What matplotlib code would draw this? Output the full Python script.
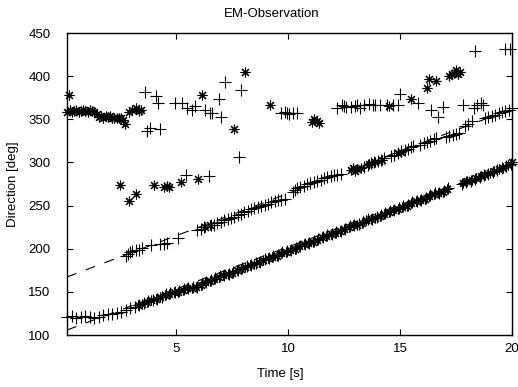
import matplotlib
matplotlib.use("Agg")
import matplotlib.pyplot as plt
import numpy as np

plt.rcParams['font.family'] = ['Liberation Sans', 'DejaVu Sans']

# lower track, '+' samples
low_plus_t = [0.15, 0.35, 0.55, 0.75, 0.95, 1.15, 1.35, 1.55, 1.75, 1.95, 2.15, 2.35, 2.55, 2.75,
              2.95, 3.15, 3.35, 3.55, 3.75, 3.95, 4.15, 4.35, 4.55, 4.75, 4.95, 5.15, 5.35, 5.55,
              5.75, 5.95, 6.15, 6.35, 6.55, 6.75, 6.95, 7.15, 7.35, 7.55, 7.75, 7.95, 8.15, 8.35,
              8.55, 8.75, 8.95, 9.15, 9.35, 9.55, 9.75, 9.95, 10.15, 10.35, 10.55, 10.75, 10.95,
              11.15, 11.35, 11.55, 11.75, 11.95, 12.15, 12.35, 12.55, 12.75, 12.95, 13.15, 13.35,
              13.55, 13.75, 13.95, 14.15, 14.35, 14.55, 14.75, 14.95, 15.15, 15.35, 15.55, 15.75,
              15.95, 16.15, 16.35, 16.55, 16.75, 16.95, 17.15, 17.75, 17.95, 18.15, 18.35, 18.55,
              18.75, 18.95, 19.15, 19.35, 19.55, 19.75, 19.95]
low_plus_v = [121, 122, 120, 121, 122, 121, 120, 121, 123, 124, 124, 126, 127, 129,
              131, 133, 135, 137, 139, 141, 142, 144, 147, 149, 150, 151, 153, 154,
              156, 156, 159, 162, 164, 166, 168, 170, 171, 173, 175, 178, 180, 181,
              183, 185, 188, 189, 191, 193, 196, 197, 199, 201, 203, 206, 207,
              209, 211, 213, 216, 217, 219, 221, 223, 226, 227, 229, 231,
              234, 235, 237, 239, 241, 244, 245, 247, 249, 251, 254, 255,
              257, 259, 262, 264, 265, 267, 270, 275, 277, 279, 281, 283,
              285, 287, 289, 291, 294, 296, 298]

# lower track, '*' samples
low_star_t = [3.3, 3.5, 3.7, 3.9, 4.1, 4.3, 4.5, 4.7, 4.9, 5.1, 5.3, 5.5, 5.7, 5.9, 6.1, 6.3,
              6.5, 6.7, 6.9, 7.1, 7.3, 7.5, 7.7, 7.9, 8.1, 8.3, 8.5, 8.7, 8.9, 9.1, 9.3, 9.5,
              9.7, 9.9, 10.1, 10.3, 10.5, 10.7, 10.9, 11.1, 11.3, 11.5, 11.7, 11.9, 12.1, 12.3,
              12.5, 12.7, 12.9, 13.1, 13.3, 13.5, 13.7, 13.9, 14.1, 14.3, 14.5, 14.7, 14.9,
              15.1, 15.3, 15.5, 15.7, 15.9, 16.1, 16.3, 16.5, 16.7, 16.9, 17.1, 17.8, 18.0,
              18.2, 18.4, 18.6, 18.8, 19.0, 19.2, 19.4, 19.6, 19.8, 20.0]
low_star_v = [135, 136, 138, 140, 142, 144, 146, 148, 150, 150, 152, 154, 155, 156, 158, 161,
              163, 165, 167, 169, 171, 172, 175, 177, 179, 181, 182, 185, 187, 189, 190, 192,
              195, 196, 198, 200, 203, 205, 207, 208, 210, 213, 215, 217, 218, 220,
              223, 225, 227, 228, 230, 233, 235, 236, 238, 240, 243, 245, 246,
              248, 250, 253, 255, 256, 258, 261, 263, 265, 266, 269, 276, 278,
              280, 282, 284, 286, 288, 290, 292, 294, 297, 300]

# middle track '+'
mid_plus_t = [2.75, 2.85, 2.95, 3.05, 3.2, 3.35, 3.5, 3.9, 4.3, 4.45, 4.6, 5.1, 5.95, 6.1, 6.25,
              6.55, 6.7, 6.85, 7.0, 7.15, 7.3, 7.45, 7.6, 7.75, 7.9, 8.05, 8.2, 8.35, 8.5, 8.65,
              8.8, 8.95, 9.1, 9.25, 9.4, 9.55, 9.7, 9.85, 10.2, 10.3, 10.4, 10.55, 10.7, 10.85,
              11.0, 11.15, 11.3, 11.45, 11.6, 11.75, 11.9, 12.05, 12.2, 12.35, 13.4, 13.55, 13.7,
              13.85, 14.0, 14.15, 14.3, 14.6, 14.75, 14.9, 15.05, 15.2, 15.35, 15.5, 15.6, 15.9,
              16.05, 16.2, 16.35, 16.5, 16.6, 17.05, 17.2, 17.35, 17.5, 17.65, 17.9, 18.05, 18.2,
              18.8, 18.95, 19.1, 19.25, 19.4, 19.55, 19.7, 19.85, 20.0]
mid_plus_v = [191, 194, 196, 197, 198, 199, 201, 204, 205, 206, 207, 212, 222, 223, 225,
              227, 228, 230, 231, 233, 234, 236, 237, 239, 240, 242, 244, 246, 247, 248,
              250, 251, 252, 254, 255, 256, 257, 258, 266, 268, 270, 272, 273, 275,
              276, 277, 279, 280, 282, 283, 284, 285, 286, 287, 295, 297, 299,
              300, 302, 303, 305, 308, 309, 311, 313, 314, 316, 318, 319, 320,
              322, 324, 325, 327, 328, 330, 331, 332, 333, 334, 342, 345, 348,
              351, 353, 354, 355, 357, 358, 360, 361, 363]

# scattered '+'
high_plus_t = [3.6, 4.1, 4.2, 3.7, 3.85, 4.3, 4.97, 5.27, 5.5, 5.7, 5.85, 6.3, 6.5, 6.6, 7.0,
               6.9, 7.2, 7.9, 7.8, 9.7, 9.85, 9.95, 10.05, 10.2, 10.4, 12.2, 12.4, 12.5, 12.6,
               12.8, 13.0, 13.2, 13.1, 13.4, 13.6, 13.8, 13.9, 14.1, 14.4, 14.7, 14.9, 15.0,
               15.8, 16.4, 16.7, 16.9, 17.8, 18.3, 18.45, 18.6, 18.7, 18.36, 19.7, 19.9,
               5.45, 6.45]
high_plus_v = [382, 377, 369, 336, 340, 339, 369, 369, 363, 361, 365, 361, 357, 357, 353,
               373, 393, 384, 306, 357, 358, 357, 356, 357, 357, 363, 366, 365, 364,
               364, 365, 363, 367, 367, 368, 367, 366, 367, 367, 367, 366, 379,
               369, 361, 353, 364, 366, 363, 366, 369, 367, 429, 432, 432,
               286, 284]

# '*' away from the lower track
star_t = [0.15, 0.25, 0.35, 0.45, 0.55, 0.65, 0.75, 0.85, 0.95, 1.05, 1.15, 1.25, 1.35, 1.45,
          1.55, 1.65, 1.75, 1.85, 1.95, 2.05, 2.15, 2.25, 2.35, 2.45, 2.55, 2.65, 2.72, 2.9,
          3.05, 3.2, 3.35, 3.45, 0.2, 2.5, 2.88, 3.2, 4.0, 4.45, 4.6, 4.7, 5.2, 6.0, 6.16,
          7.6, 8.1, 9.2, 11.05, 11.15, 11.3, 11.4, 14.5, 15.5, 16.2, 16.3, 16.6, 17.2, 17.3,
          17.4, 17.5, 17.6, 17.7, 6.3, 6.5, 12.8, 12.9, 13.0, 13.1, 13.25, 13.6, 13.9, 14.2,
          14.9, 15.05]
star_v = [359, 361, 358, 360, 361, 359, 360, 361, 360, 359, 361, 360, 358, 356,
          353, 354, 352, 354, 353, 354, 352, 351, 352, 351, 352, 349, 345, 358,
          361, 363, 360, 361, 378, 274, 255, 263, 274, 271, 273, 272, 277, 281, 378,
          339, 405, 366, 347, 350, 348, 346, 365, 373, 386, 397, 394, 400, 402,
          404, 407, 403, 405, 225, 227, 291, 293, 290, 292, 293, 298, 301, 303,
          311, 312]

# dashed fit lines: (intercept, slope)
fits = [(104.5, 9.75), (166.0, 9.8)]

x_min, x_max = 0.13, 20

fig = plt.figure(figsize=(5.18, 3.87), dpi=100)
ax = fig.add_axes([67 / 518, 1 - 335 / 387, 445 / 518, 302 / 387])

star_marker = (8, 2, 0)
kw = dict(linestyle='none', color='black', markeredgewidth=0.8, clip_on=False)
ax.plot(low_plus_t, low_plus_v, marker='+', markersize=8, **kw)
ax.plot(mid_plus_t, mid_plus_v, marker='+', markersize=8, **kw)
ax.plot(high_plus_t, high_plus_v, marker='+', markersize=8, **kw)
ax.plot(low_star_t, low_star_v, marker=star_marker, markersize=7, **kw)
ax.plot(star_t, star_v, marker=star_marker, markersize=7, **kw)

xs = np.array([x_min, x_max])
for b, m in fits:
    ax.plot(xs, b + m * xs, color='black', linewidth=0.8, linestyle=(0, (9, 9)))

ax.set_xlim(x_min, x_max)
ax.set_ylim(100, 450)
ax.set_xticks([5, 10, 15, 20])
ax.set_yticks(range(100, 451, 50))
ax.tick_params(direction='in', length=4, width=0.8, top=True, right=True,
               labelsize=9.5, pad=6)
ax.tick_params(axis='y', pad=12)
for s in ax.spines.values():
    s.set_linewidth(1.0)

fig.text(272 / 518, 1 - 14 / 387, 'EM-Observation', ha='center', va='center', fontsize=9.5)
fig.text(280 / 518, 1 - 374 / 387, 'Time [s]', ha='center', va='center', fontsize=9.5)
fig.text(13 / 518, 1 - 184 / 387, 'Direction [deg]', ha='center', va='center',
         rotation=90, fontsize=9.5)

fig.savefig('out.png', dpi=100)
